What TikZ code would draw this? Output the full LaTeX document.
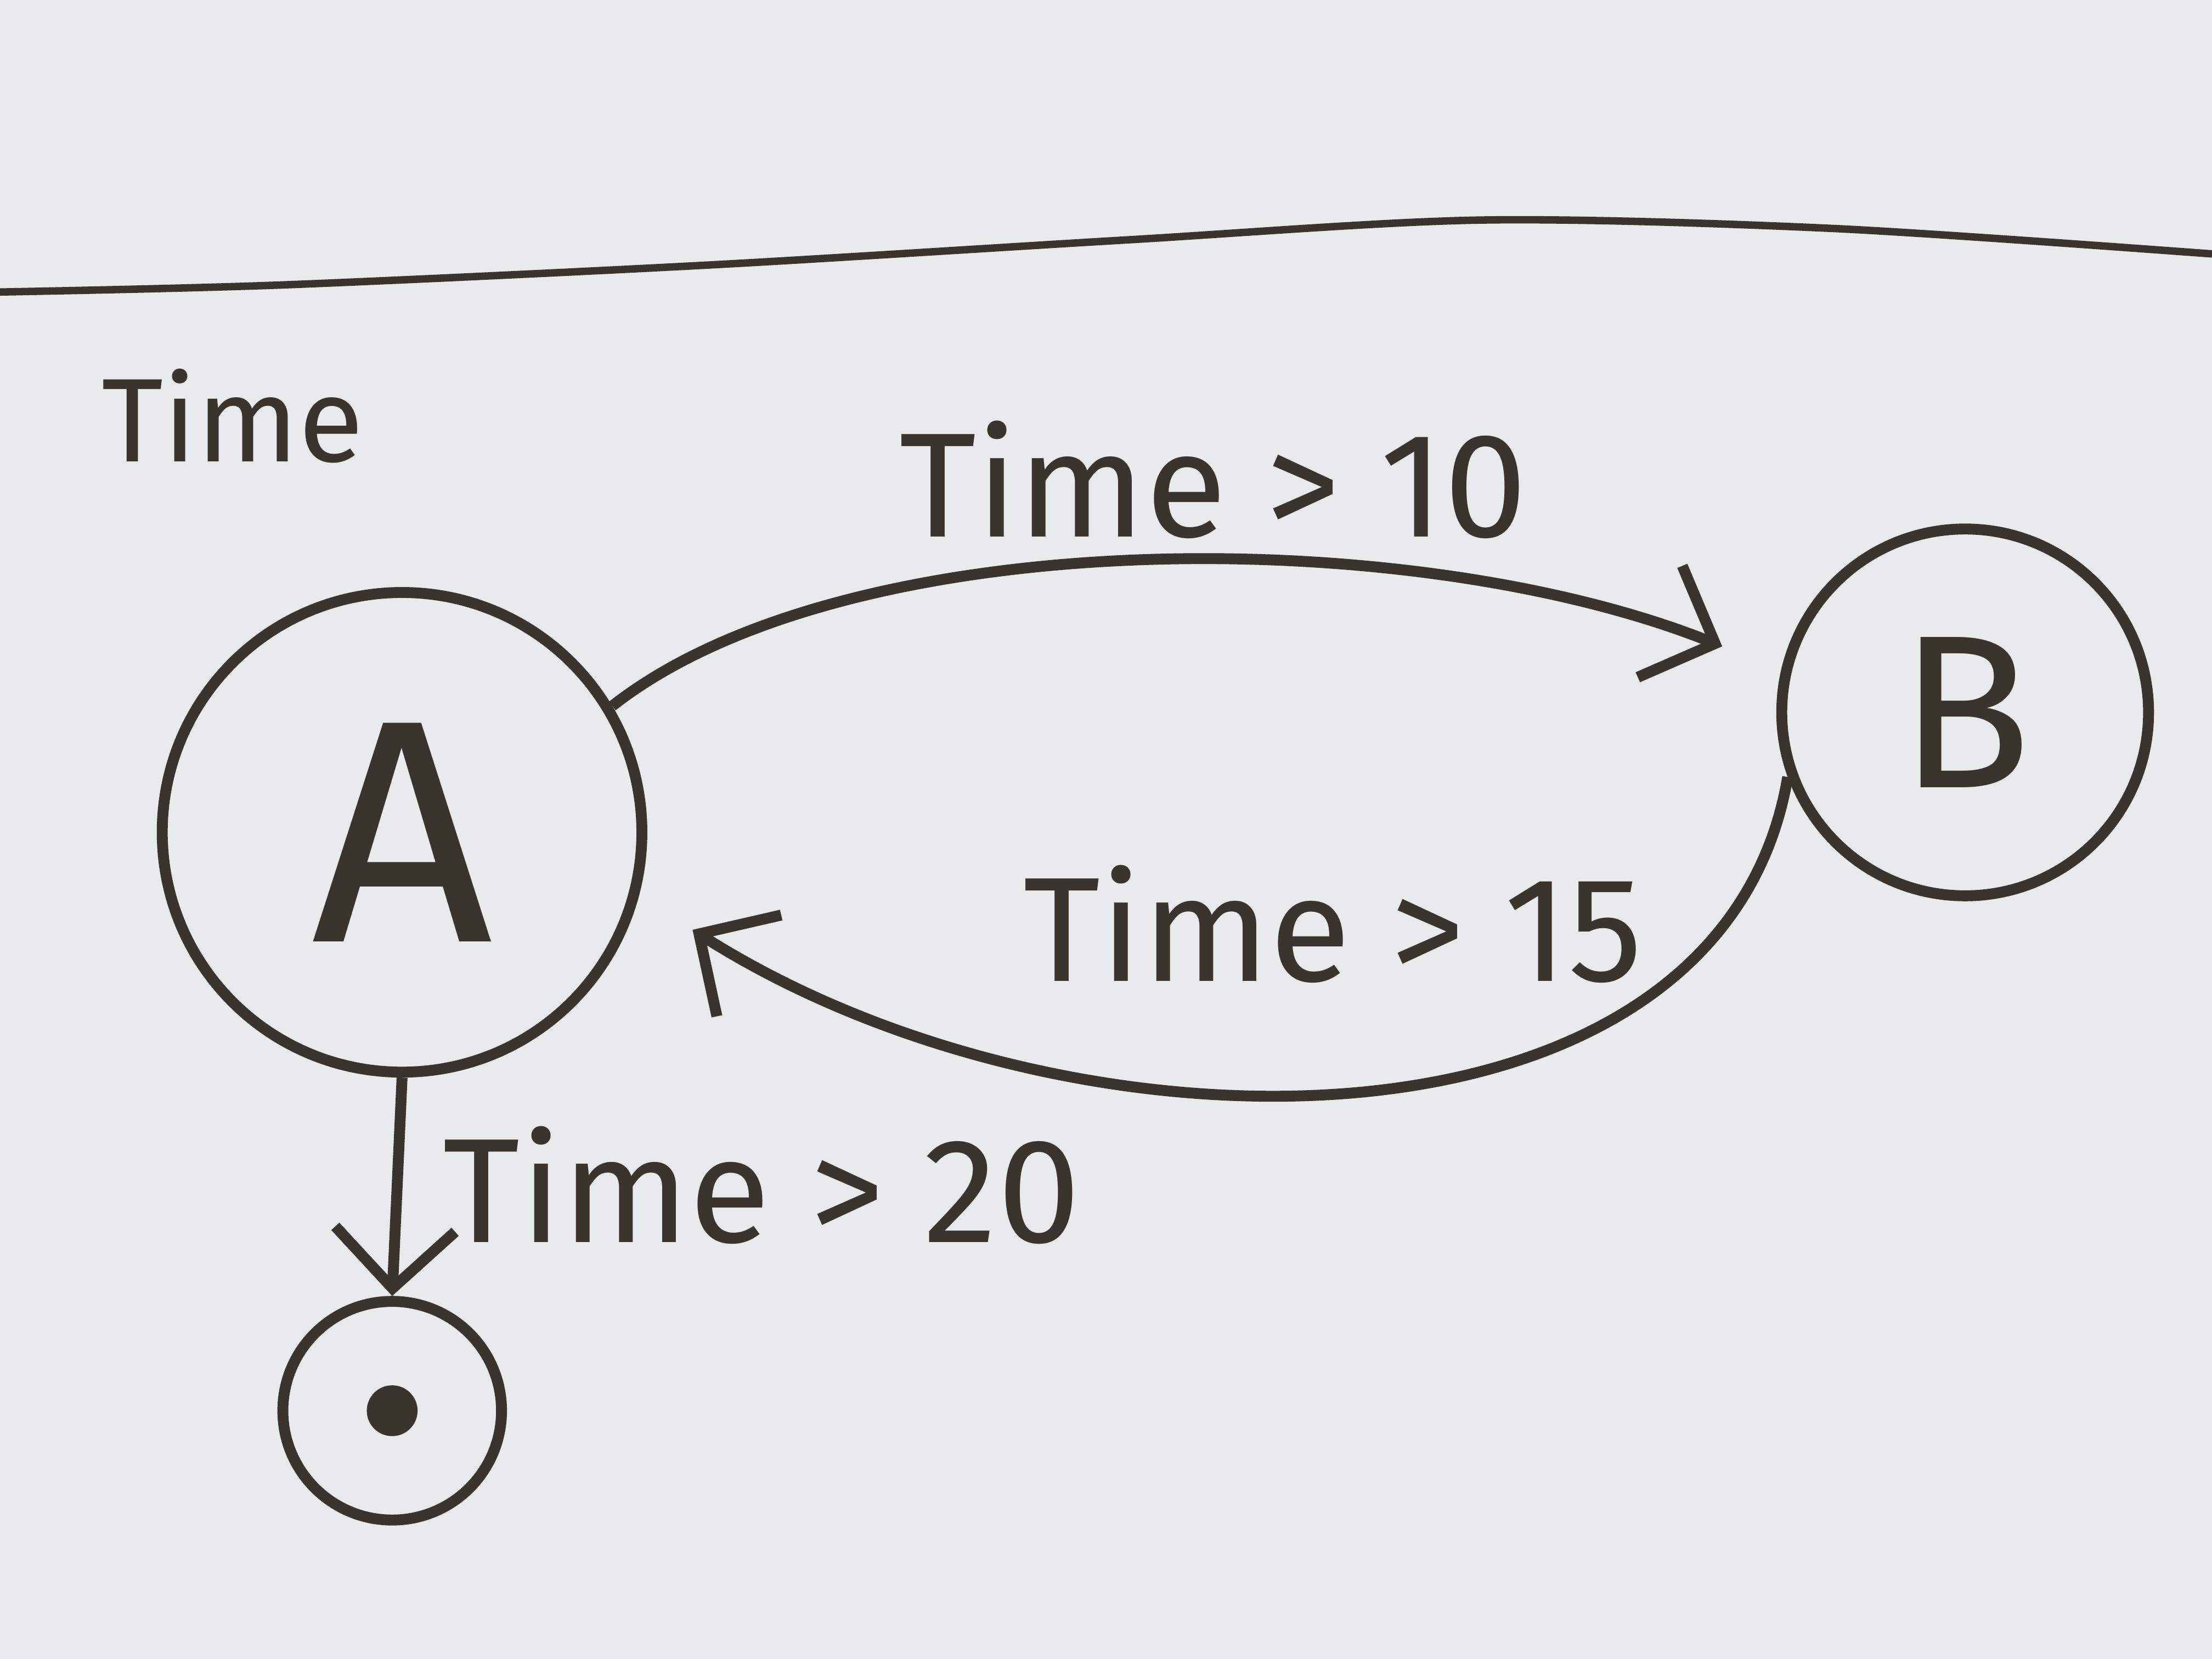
\documentclass[tikz,border=0pt]{standalone}
\usepackage{fontspec}
\setmainfont{Fira Sans}
\usetikzlibrary{arrows.meta}
\definecolor{ink}{HTML}{3A342E}
\definecolor{board}{HTML}{E9EAEC}
\tikzset{
  state/.style={circle, draw=ink, line width=2.2pt, text=ink, inner sep=0pt},
  trans/.style={draw=ink, line width=2.2pt, -{Straight Barb[length=0.42cm,width=0.85cm,line width=2.2pt]}},
  lbl/.style={text=ink, font=\fontsize{30}{34}\selectfont},
}
\begin{document}
\begin{tikzpicture}
\fill[board] (0,0) rectangle (15.68,-11.76);
\useasboundingbox (0,0) rectangle (15.68,-11.76);
% board edge line
\draw[ink, line width=1.5pt] plot[smooth] coordinates {(0,-2.07) (2,-2.02) (5,-1.88) (8,-1.70) (10.5,-1.56) (13,-1.62) (15.68,-1.80)};
\node[lbl, font=\fontsize{24}{28}\selectfont] (t) at (1.65,-2.95) {Time};
\node[state, minimum size=3.4cm, font=\fontsize{64}{68}\selectfont] (A) at (2.85,-5.90) {A};
\node[state, minimum size=2.6cm, font=\fontsize{44}{48}\selectfont] (B) at (13.93,-5.05) {B};
\node[state, minimum size=1.55cm] (F) at (2.78,-10.00) {};
\node[circle, fill=ink, minimum size=0.36cm, inner sep=0pt] (Fd) at (F.center) {};
\draw[trans, shorten >=0.45cm] (A.31) .. controls (6.0,-3.7) and (10.0,-3.7) .. (B.167);
\draw[trans, shorten >=0.45cm] (B.200) .. controls (12.2,-8.3) and (7.6,-8.3) .. (A.-15);
\draw[trans] (A.south) -- (F.north);
\node[lbl] (l1) at (8.6,-3.40) {Time > 10};
\node[lbl] (l2) at (9.45,-6.55) {Time > 15};
\node[lbl] (l3) at (5.4,-8.40) {Time > 20};
\end{tikzpicture}
\end{document}
